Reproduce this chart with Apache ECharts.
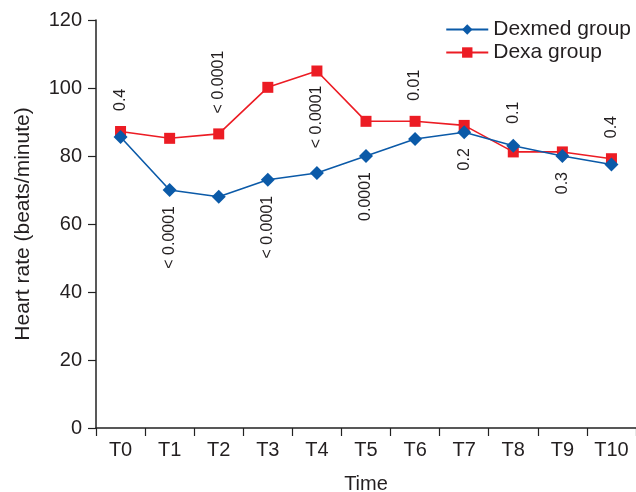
<!DOCTYPE html>
<html>
<head>
<meta charset="utf-8">
<script src="https://cdn.jsdelivr.net/npm/echarts@6/dist/echarts.min.js"></script>
<style>html,body{margin:0;padding:0;background:#fff}#c{width:636px;height:492px}</style>
</head>
<body>
<div id="c"></div>
<script>
const times = ['T0','T1','T2','T3','T4','T5','T6','T7','T8','T9','T10'];
const dexmed = [85.6, 70, 68, 73, 75, 80, 85, 87, 83, 80, 77.5];
const dexa = [87.2, 85.2, 86.5, 100.2, 105, 90.2, 90.2, 89, 81.2, 81.2, 79.2];
const pValues = ['0.4','< 0.0001','< 0.0001','< 0.0001','< 0.0001','0.0001','0.01','0.2','0.1','0.3','0.4'];
const yTicks = [0, 20, 40, 60, 80, 100, 120];

// which series carries each p-value label, and on which side
const labelSeries = ['dexa','dexmed','dexa','dexmed','dexa','dexmed','dexa','dexmed','dexmed','dexmed','dexa'];
const labelSide = ['top','bottom','top','bottom','bottom','bottom','top','bottom','top','bottom','top'];

const FONT = 'Liberation Sans, Arial, sans-serif';
const TXT = '#231f20';
const BLUE = '#0b5aa8';
const RED = '#ec1c24';

function buildData(values, key) {
  return values.map((v, i) => {
    const item = { value: v };
    if (labelSeries[i] === key) {
      const top = labelSide[i] === 'top';
      item.label = {
        show: true,
        formatter: pValues[i],
        position: top ? 'top' : 'bottom',
        distance: top ? 15 : 9,
        rotate: 90,
        align: top ? 'left' : 'right',
        verticalAlign: 'middle',
        fontSize: 16,
        fontFamily: FONT,
        color: TXT
      };
    }
    return item;
  });
}

const chart = echarts.init(document.getElementById('c'), null, { renderer: 'canvas' });
chart.setOption({
  animation: false,
  backgroundColor: '#fff',
  textStyle: { fontFamily: FONT, color: TXT },
  grid: { left: 96, right: 0, top: 20, bottom: 64, containLabel: false, outerBoundsMode: 'none' },
  legend: {
    orient: 'vertical',
    right: 0,
    top: 14,
    itemWidth: 42,
    itemHeight: 13,
    itemGap: 2,
    textStyle: { fontSize: 21, fontFamily: FONT, color: TXT, lineHeight: 21 },
    data: ['Dexmed group', 'Dexa group']
  },
  xAxis: {
    type: 'category',
    data: times,
    boundaryGap: true,
    name: 'Time',
    nameLocation: 'middle',
    nameGap: 46,
    nameTextStyle: { fontSize: 20, fontFamily: FONT, color: TXT },
    axisLine: { lineStyle: { color: '#222', width: 1.5 } },
    axisTick: { show: true, length: 8, alignWithLabel: false, lineStyle: { color: '#222', width: 1.2 } },
    axisLabel: { fontSize: 20, fontFamily: FONT, color: TXT, margin: 12, interval: 0 },
    splitLine: { show: false }
  },
  yAxis: {
    type: 'value',
    min: yTicks[0],
    max: yTicks[yTicks.length - 1],
    interval: yTicks[1] - yTicks[0],
    name: 'Heart rate (beats/minute)',
    nameLocation: 'middle',
    nameGap: 62,
    nameRotate: 90,
    nameTextStyle: { fontSize: 21, fontFamily: FONT, color: TXT },
    axisLine: { show: true, lineStyle: { color: '#222', width: 1.5 } },
    axisTick: { show: true, length: 8, inside: false, lineStyle: { color: '#222', width: 1.2 } },
    axisLabel: { fontSize: 20, fontFamily: FONT, color: TXT, margin: 14 },
    splitLine: { show: false }
  },
  series: [
    {
      name: 'Dexmed group',
      type: 'line',
      data: buildData(dexmed, 'dexmed'),
      symbol: 'diamond',
      symbolSize: 14,
      itemStyle: { color: BLUE },
      lineStyle: { color: BLUE, width: 1.6 },
      z: 3
    },
    {
      name: 'Dexa group',
      type: 'line',
      data: buildData(dexa, 'dexa'),
      symbol: 'rect',
      symbolSize: 11,
      itemStyle: { color: RED },
      lineStyle: { color: RED, width: 1.6 },
      z: 2
    }
  ]
});
</script>
</body>
</html>
